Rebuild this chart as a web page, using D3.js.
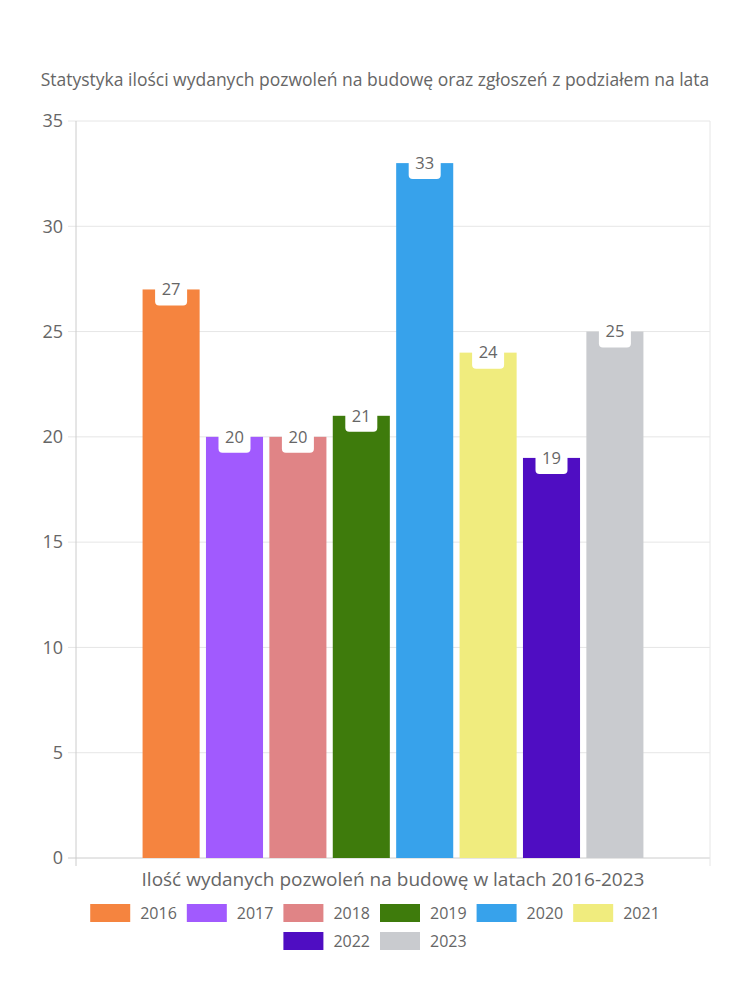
<!DOCTYPE html>
<html>
<head>
<meta charset="utf-8">
<script src="https://cdn.jsdelivr.net/npm/d3@7"></script>
<style>
  body { margin: 0; background: #fff; }
  text { font-family: "Open Sans", "Noto Sans", sans-serif; }
</style>
</head>
<body>
<div id="chart"></div>
<script>
const title = 'Statystyka ilości wydanych pozwoleń na budowę oraz zgłoszeń z podziałem na lata';
const category = ['Ilość wydanych pozwoleń na budowę w latach 2016-2023'];
const years = ['2016', '2017', '2018', '2019', '2020', '2021', '2022', '2023'];
const values = [27, 20, 20, 21, 33, 24, 19, 25];
const colors = ['#F5843F', '#A15AFE', '#E08486', '#3E7B0C', '#37A2EB', '#F0EC7E', '#4F0DC2', '#C9CBCF'];
const yTicks = [0, 5, 10, 15, 20, 25, 30, 35];

const width = 750;
const height = 1000;
const margin = { top: 121, bottom: 142, left: 76, right: 40 };

const svg = d3.select('#chart')
  .append('svg')
  .attr('width', width)
  .attr('height', height);

// one category, 80% of the width
const x = d3.scaleBand()
  .domain(category)
  .range([margin.left, width - margin.right])
  .paddingOuter(0.125);

const x1 = d3.scaleBand()
  .domain(years)
  .range([x(category[0]), x(category[0]) + x.bandwidth()])
  .paddingInner(0.1)
  .paddingOuter(0.05);

const y = d3.scaleLinear()
  .domain([0, 35])
  .range([height - margin.bottom, margin.top]);

// title
svg.append('text')
  .attr('x', width / 2)
  .attr('y', 86)
  .attr('text-anchor', 'middle')
  .attr('font-size', '17.5px')
  .attr('fill', '#666')
  .text(title);

// horizontal grid
svg.append('g')
  .selectAll('line')
  .data(yTicks)
  .join('line')
    .attr('x1', margin.left - 8)
    .attr('x2', width - margin.right)
    .attr('y1', d => y(d))
    .attr('y2', d => y(d))
    .attr('stroke', d => d === 0 ? '#ccc' : '#e6e6e6')
    .attr('stroke-width', 1);

// vertical edge lines
svg.append('g')
  .selectAll('line')
  .data([margin.left, width - margin.right])
  .join('line')
    .attr('x1', d => d)
    .attr('x2', d => d)
    .attr('y1', margin.top)
    .attr('y2', y(0) + 8)
    .attr('stroke', (d, i) => i === 0 ? '#ccc' : '#e6e6e6');

// y axis labels
svg.append('g')
  .selectAll('text')
  .data(yTicks)
  .join('text')
    .attr('x', margin.left - 13)
    .attr('y', d => y(d))
    .attr('dy', '0.35em')
    .attr('text-anchor', 'end')
    .attr('font-family', '"Liberation Sans", Arial, sans-serif')
    .attr('font-size', '18px')
    .attr('fill', '#666')
    .text(d => d);

// bars
const bars = years.map((yr, i) => ({ year: yr, value: values[i], color: colors[i] }));

svg.append('g')
  .selectAll('rect')
  .data(bars)
  .join('rect')
    .attr('x', d => x1(d.year))
    .attr('y', d => y(d.value))
    .attr('width', x1.bandwidth())
    .attr('height', d => y(0) - y(d.value))
    .attr('fill', d => d.color);

// data labels
const lab = svg.append('g')
  .selectAll('g')
  .data(bars)
  .join('g')
    .attr('transform', d => `translate(${x1(d.year) + x1.bandwidth() / 2},${y(d.value)})`);

lab.append('rect')
  .attr('x', -16)
  .attr('y', -16)
  .attr('width', 32)
  .attr('height', 32)
  .attr('rx', 4)
  .attr('fill', '#fff');

lab.append('text')
  .attr('text-anchor', 'middle')
  .attr('dy', '0.35em')
  .attr('font-size', '16.5px')
  .attr('fill', '#666')
  .text(d => d.value);

// x axis title
svg.append('text')
  .attr('x', (margin.left + width - margin.right) / 2)
  .attr('y', 886)
  .attr('text-anchor', 'middle')
  .attr('font-size', '19px')
  .attr('fill', '#666')
  .text(category[0]);

// legend
const boxW = 40, boxH = 18, fontSize = 16, gap = 10;
const rows = [years.slice(0, 6), years.slice(6)];
const rowY = [913, 941];

rows.forEach((row, r) => {
  const g = svg.append('g');
  const items = g.selectAll('g')
    .data(row)
    .join('g');
  items.append('rect')
    .attr('width', boxW)
    .attr('height', boxH)
    .attr('y', -boxH / 2)
    .attr('fill', d => colors[years.indexOf(d)]);
  items.append('text')
    .attr('x', boxW + gap)
    .attr('dy', '0.35em')
    .attr('font-size', fontSize + 'px')
    .attr('fill', '#666')
    .text(d => d);
  let offs = [], total = 0;
  items.each(function () {
    const w = this.getBBox().width;
    offs.push(total);
    total += w + gap;
  });
  total -= gap;
  const start = width / 2 - total / 2;
  items.attr('transform', (d, i) => `translate(${start + offs[i]},${rowY[r]})`);
});
</script>
</body>
</html>
